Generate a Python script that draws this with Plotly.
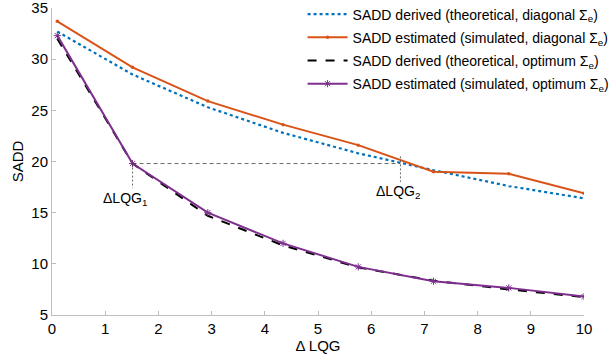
import plotly.graph_objects as go

x = [0.1, 1.514, 2.929, 4.343, 5.757, 7.171, 8.586, 10.0]
derived_diag = [32.7, 28.5, 25.3, 22.8, 20.8, 19.15, 17.6, 16.4]
estimated_diag = [33.7, 29.2, 25.9, 23.6, 21.6, 19.0, 18.8, 16.9]
derived_opt = [32.0, 19.8, 14.7, 11.8, 9.65, 8.35, 7.5, 6.75]
estimated_opt = [32.3, 19.8, 15.0, 12.0, 9.7, 8.3, 7.65, 6.8]

lqg1_x, lqg2_x, lqg_y = 1.514, 6.55, 19.8

fig = go.Figure()
fig.add_trace(go.Scatter(x=x, y=derived_diag, mode="lines", legendgroup="a",
                         line=dict(color="#0072BD", width=2.2, dash="dot"),
                         name="SADD derived (theoretical, diagonal Σ<sub>e</sub>)"))
fig.add_trace(go.Scatter(x=x, y=estimated_diag, mode="lines+markers", legendgroup="b",
                         line=dict(color="#D95319", width=2),
                         marker=dict(symbol="circle", size=3.5, color="#D95319"),
                         name="SADD estimated (simulated, diagonal Σ<sub>e</sub>)"))
fig.add_trace(go.Scatter(x=x, y=derived_opt, mode="lines", legendgroup="c",
                         line=dict(color="black", width=2, dash="dash"),
                         name="SADD derived (theoretical, optimum Σ<sub>e</sub>)"))
fig.add_trace(go.Scatter(x=x, y=estimated_opt, mode="lines+markers", legendgroup="d",
                         line=dict(color="#7E2F8E", width=2),
                         marker=dict(symbol="asterisk-open", size=6, color="#7E2F8E",
                                     line=dict(color="#7E2F8E", width=1)),
                         name="SADD estimated (simulated, optimum Σ<sub>e</sub>)"))

# reference guide lines
fig.add_trace(go.Scatter(x=[lqg1_x, lqg2_x], y=[lqg_y, lqg_y], mode="lines",
                         line=dict(color="#444444", width=0.8, dash="4px,3px"),
                         showlegend=False, hoverinfo="skip"))
fig.add_trace(go.Scatter(x=[lqg1_x, lqg1_x], y=[lqg_y, 17.4], mode="lines",
                         line=dict(color="#444444", width=0.8, dash="2px,2px"),
                         showlegend=False, hoverinfo="skip"))
fig.add_trace(go.Scatter(x=[lqg2_x, lqg2_x], y=[20.5, 18.0], mode="lines",
                         line=dict(color="#444444", width=0.8, dash="2px,2px"),
                         showlegend=False, hoverinfo="skip"))

fig.add_annotation(x=1.37, y=16.3, text="ΔLQG<sub>1</sub>", showarrow=False,
                   font=dict(size=14, color="black"))
fig.add_annotation(x=6.5, y=17.0, text="ΔLQG<sub>2</sub>", showarrow=False,
                   font=dict(size=14, color="black"))

axis_common = dict(showline=True, linecolor="#bdbdbd", linewidth=1, ticks="inside",
                   ticklen=4, tickcolor="#bdbdbd", showgrid=False, zeroline=False,
                   tickfont=dict(size=15, color="black"), mirror=False, automargin=False,
                   ticklabeloverflow="allow")

fig.update_layout(
    width=613, height=360,
    margin=dict(l=52, r=29, t=8, b=45, autoexpand=False),
    plot_bgcolor="white", paper_bgcolor="white",
    font=dict(family="Liberation Sans, Arial, sans-serif", color="black"),
    xaxis=dict(range=[0, 10], dtick=1, title=dict(text="Δ LQG", font=dict(size=15), standoff=4),
               **axis_common),
    yaxis=dict(range=[5, 35], dtick=5, title=dict(text="SADD", font=dict(size=15), standoff=4),
               **axis_common),
    legend=dict(x=0.471, y=1.031, xanchor="left", yanchor="top", bgcolor="rgba(255,255,255,0)",
                font=dict(size=14), tracegroupgap=2, itemwidth=40),
    showlegend=True,
)

fig.write_html("out.html", config={"displayModeBar": False},
               post_script="document.body.style.margin='0';")
